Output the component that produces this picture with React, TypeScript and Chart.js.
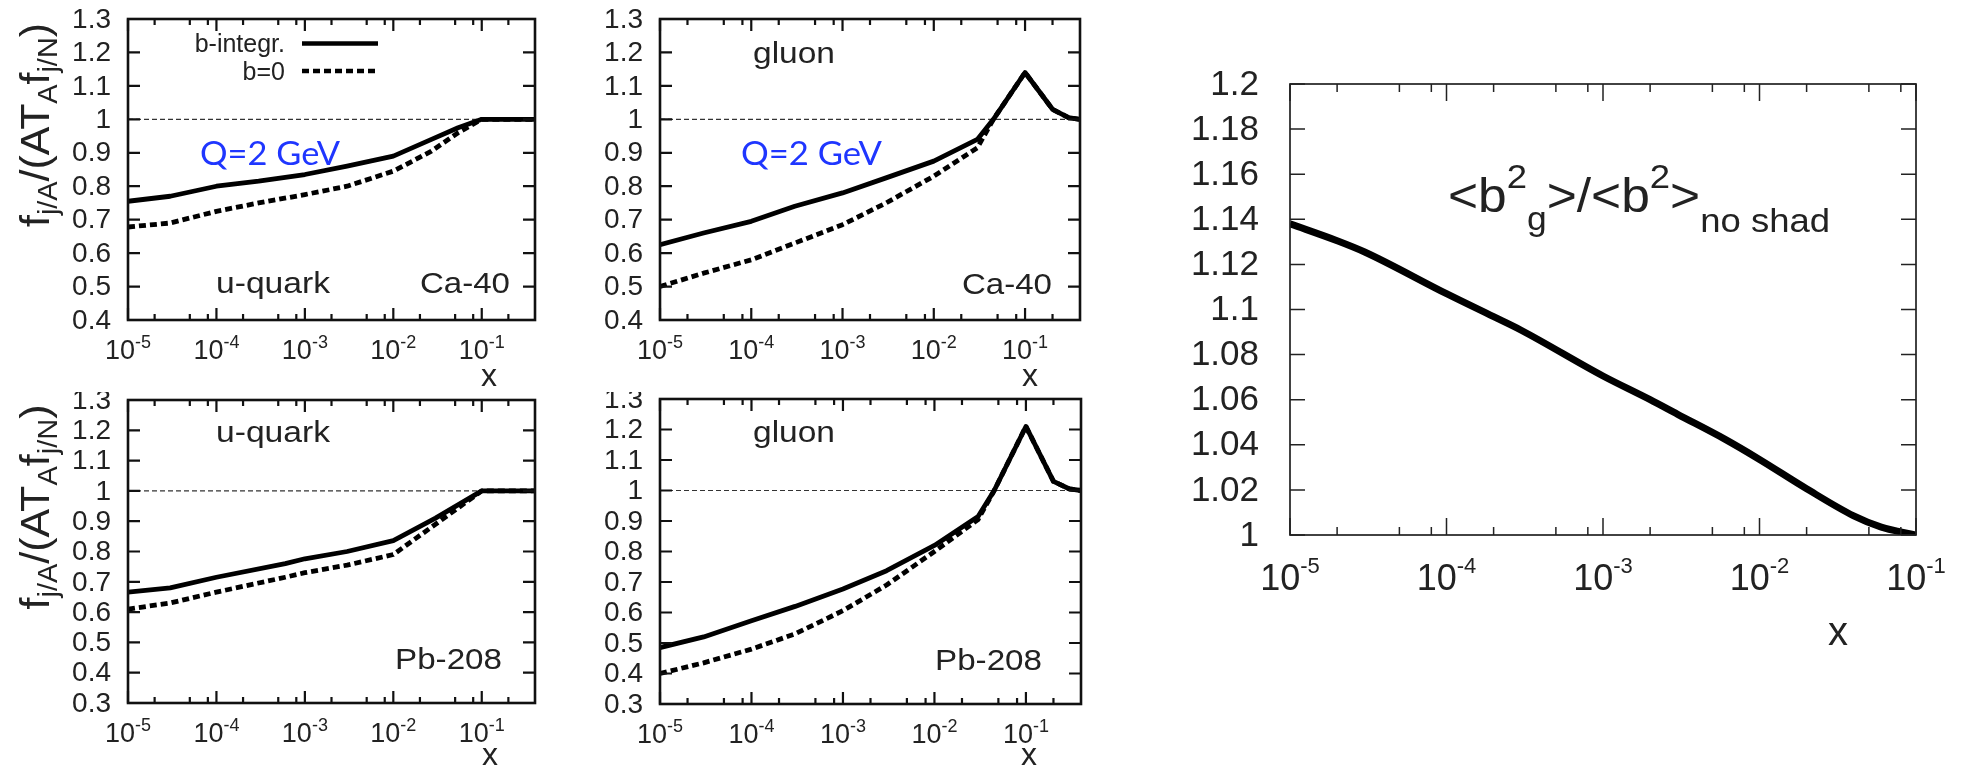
import { useEffect, useRef } from 'react';
import { Chart, registerables } from 'chart.js';

Chart.register(...registerables);

const FONT = '"Liberation Sans", Arial, Helvetica, sans-serif';
const QFONT = 'Lato, "Open Sans", sans-serif';

// ---------------- data ----------------
// u-quark, Ca-40
const uCaX = [1e-5, 3e-5, 1e-4, 3e-4, 1e-3, 3e-3, 1e-2, 2.7e-2, 5.4e-2, 0.1, 0.4];
const uCaInt = [0.755, 0.77, 0.8, 0.815, 0.835, 0.86, 0.89, 0.94, 0.975, 1.0, 1.0];
const uCaB0 = [0.678, 0.69, 0.725, 0.75, 0.775, 0.8, 0.845, 0.905, 0.96, 1.0, 1.0];
// gluon, Ca-40
const gCaX = [1e-5, 3e-5, 1e-4, 3e-4, 1e-3, 3e-3, 1e-2, 3e-2, 4.5e-2, 0.1, 0.2, 0.3, 0.4];
const gCaInt = [0.625, 0.66, 0.695, 0.74, 0.78, 0.825, 0.875, 0.94, 1.0, 1.14, 1.03, 1.005, 1.0];
const gCaB0 = [0.5, 0.54, 0.58, 0.63, 0.685, 0.75, 0.83, 0.915, 1.0, 1.14, 1.03, 1.005, 1.0];
// u-quark, Pb-208
const uPbX = [1e-5, 3e-5, 1e-4, 6e-4, 1e-3, 3e-3, 1e-2, 3e-2, 0.1, 0.4];
const uPbInt = [0.666, 0.68, 0.715, 0.76, 0.776, 0.8, 0.836, 0.91, 1.0, 1.0];
const uPbB0 = [0.61, 0.63, 0.666, 0.715, 0.73, 0.755, 0.79, 0.89, 1.0, 1.0];
// gluon, Pb-208
const gPbX = [1e-5, 3e-5, 1e-4, 3e-4, 1e-3, 3e-3, 1e-2, 3e-2, 4.5e-2, 0.1, 0.2, 0.3, 0.4];
const gPbInt = [0.485, 0.52, 0.573, 0.62, 0.677, 0.737, 0.82, 0.915, 1.0, 1.21, 1.03, 1.005, 1.0];
const gPbB0 = [0.4, 0.435, 0.48, 0.53, 0.606, 0.69, 0.8, 0.905, 1.0, 1.21, 1.03, 1.005, 1.0];
// <b^2_g>/<b^2>_no shad
const b2X = [1e-5, 2e-5, 3e-5, 1e-4, 2e-4, 3e-4, 1e-3, 2e-3, 3e-3, 6e-3, 1e-2, 2e-2, 4e-2, 6e-2, 1e-1];
const b2Ratio = [1.138, 1.1305, 1.1255, 1.107, 1.0968, 1.0908, 1.0705, 1.06, 1.0535, 1.0425, 1.0335, 1.0205, 1.0085, 1.0035, 1.0];

// ticks
const decadeTicks = [1e-5, 1e-4, 1e-3, 1e-2, 1e-1];
const decadeExps = ['-5', '-4', '-3', '-2', '-1'];
const minorMult = [2, 5, 8];
const yTicksCa = [0.4, 0.5, 0.6, 0.7, 0.8, 0.9, 1.0, 1.1, 1.2, 1.3];
const yTicksPb = [0.3, 0.4, 0.5, 0.6, 0.7, 0.8, 0.9, 1.0, 1.1, 1.2, 1.3];
const yTicksB2 = [1.0, 1.02, 1.04, 1.06, 1.08, 1.1, 1.12, 1.14, 1.16, 1.18, 1.2];

// ---------------- helpers ----------------
type Seg = { t: string; s: number; dy?: number };
type TextItem = {
  segs: Seg[];
  x: number;
  y: number;
  align: 'left' | 'center' | 'right';
  family?: string;
  color?: string;
  width?: number;
  rotate?: boolean;
};

function richWidth(ctx: CanvasRenderingContext2D, segs: Seg[], family: string) {
  let w = 0;
  for (const sg of segs) {
    ctx.font = `${sg.s}px ${family}`;
    w += ctx.measureText(sg.t).width;
  }
  return w;
}

function drawRich(ctx: CanvasRenderingContext2D, it: TextItem, ox: number, oy: number) {
  const family = it.family || FONT;
  const w = richWidth(ctx, it.segs, family);
  const sx = it.width ? it.width / w : 1;
  const total = w * sx;
  ctx.save();
  ctx.translate(it.x - ox, it.y - oy);
  if (it.rotate) ctx.rotate(-Math.PI / 2);
  const x0 = it.align === 'left' ? 0 : it.align === 'center' ? -total / 2 : -total;
  ctx.translate(x0, 0);
  ctx.scale(sx, 1);
  ctx.fillStyle = it.color || '#222';
  ctx.textAlign = 'left';
  ctx.textBaseline = 'alphabetic';
  let cx = 0;
  for (const sg of it.segs) {
    ctx.font = `${sg.s}px ${family}`;
    ctx.fillText(sg.t, cx, sg.dy || 0);
    cx += ctx.measureText(sg.t).width;
  }
  ctx.restore();
}

type Series = { x: number[]; y: number[]; dashed: boolean };
type Panel = {
  box: [number, number, number, number];
  frame: [number, number, number, number];
  xMax: number;
  yMin: number;
  yMax: number;
  yTicks: number[];
  big: boolean;
  series: Series[];
  refLine: boolean;
  texts: TextItem[];
  xLabel: [number, number];
  legend?: boolean;
};

const yTitleSegs: Seg[] = [
  { t: 'f', s: 40 },
  { t: 'j/A', s: 27, dy: 8 },
  { t: '/(AT', s: 40 },
  { t: 'A', s: 27, dy: 8 },
  { t: 'f', s: 40 },
  { t: 'j/N', s: 27, dy: 8 },
  { t: ')', s: 40 },
];

const panels: Panel[] = [
  {
    box: [0, 0, 545, 392],
    frame: [128, 19, 535, 320],
    xMax: 0.4,
    yMin: 0.4,
    yMax: 1.3,
    yTicks: yTicksCa,
    big: false,
    series: [
      { x: uCaX, y: uCaInt, dashed: false },
      { x: uCaX, y: uCaB0, dashed: true },
    ],
    refLine: true,
    legend: true,
    xLabel: [489, 386],
    texts: [
      { segs: [{ t: 'u-quark', s: 30 }], x: 216, y: 293, align: 'left', width: 114 },
      { segs: [{ t: 'Ca-40', s: 30 }], x: 420, y: 293, align: 'left', width: 90 },
      { segs: [{ t: 'Q=2 GeV', s: 33 }], x: 200, y: 165, align: 'left', width: 140, family: QFONT, color: '#1f36ff' },
      { segs: yTitleSegs, x: 49, y: 125, align: 'center', width: 204, rotate: true },
    ],
  },
  {
    box: [545, 0, 545, 392],
    frame: [660, 19, 1080, 320],
    xMax: 0.4,
    yMin: 0.4,
    yMax: 1.3,
    yTicks: yTicksCa,
    big: false,
    series: [
      { x: gCaX, y: gCaInt, dashed: false },
      { x: gCaX, y: gCaB0, dashed: true },
    ],
    refLine: true,
    xLabel: [1030, 386],
    texts: [
      { segs: [{ t: 'gluon', s: 30 }], x: 753, y: 63, align: 'left', width: 82 },
      { segs: [{ t: 'Ca-40', s: 30 }], x: 962, y: 294, align: 'left', width: 90 },
      { segs: [{ t: 'Q=2 GeV', s: 33 }], x: 741, y: 165, align: 'left', width: 141, family: QFONT, color: '#1f36ff' },
    ],
  },
  {
    box: [0, 392, 545, 379],
    frame: [128, 400, 535, 703],
    xMax: 0.4,
    yMin: 0.3,
    yMax: 1.3,
    yTicks: yTicksPb,
    big: false,
    series: [
      { x: uPbX, y: uPbInt, dashed: false },
      { x: uPbX, y: uPbB0, dashed: true },
    ],
    refLine: true,
    xLabel: [490, 765],
    texts: [
      { segs: [{ t: 'u-quark', s: 30 }], x: 216, y: 442, align: 'left', width: 114 },
      { segs: [{ t: 'Pb-208', s: 30 }], x: 395, y: 669, align: 'left', width: 107 },
      { segs: yTitleSegs, x: 49, y: 507, align: 'center', width: 205, rotate: true },
    ],
  },
  {
    box: [545, 392, 545, 379],
    frame: [660, 399, 1081, 704],
    xMax: 0.4,
    yMin: 0.3,
    yMax: 1.3,
    yTicks: yTicksPb,
    big: false,
    series: [
      { x: gPbX, y: gPbInt, dashed: false },
      { x: gPbX, y: gPbB0, dashed: true },
    ],
    refLine: true,
    xLabel: [1029, 765],
    texts: [
      { segs: [{ t: 'gluon', s: 30 }], x: 753, y: 442, align: 'left', width: 82 },
      { segs: [{ t: 'Pb-208', s: 30 }], x: 935, y: 670, align: 'left', width: 107 },
    ],
  },
  {
    box: [1100, 0, 866, 771],
    frame: [1290, 84, 1916, 535],
    xMax: 0.1,
    yMin: 1.0,
    yMax: 1.2,
    yTicks: yTicksB2,
    big: true,
    series: [{ x: b2X, y: b2Ratio, dashed: false }],
    refLine: false,
    xLabel: [1838, 645],
    texts: [
      {
        segs: [
          { t: '<b', s: 48 },
          { t: '2', s: 34, dy: -24 },
          { t: 'g', s: 33, dy: 18 },
          { t: '>/<b', s: 48 },
          { t: '2', s: 34, dy: -24 },
          { t: '>', s: 48 },
          { t: 'no shad', s: 34, dy: 20 },
        ],
        x: 1448,
        y: 212,
        align: 'left',
        width: 382,
      },
    ],
  },
];

function fmtY(v: number) {
  return String(Number(v.toFixed(2)));
}

function decoPlugin(p: Panel) {
  return {
    id: 'deco',
    afterDraw(chart: any) {
      const ctx: CanvasRenderingContext2D = chart.ctx;
      const xs = chart.scales.x;
      const ys = chart.scales.y;
      const { left, right, top, bottom } = chart.chartArea;
      const ox = p.box[0];
      const oy = p.box[1];
      const big = p.big;
      const majX = big ? 17 : 12;
      const minX = big ? 8 : 6;
      const majY = big ? 15 : 12;
      ctx.save();
      ctx.strokeStyle = big ? '#222' : '#111';
      ctx.lineWidth = big ? 1.5 : 2.2;
      ctx.setLineDash([]);
      ctx.beginPath();
      for (const d of decadeTicks) {
        if (d > p.xMax * 1.0001) continue;
        const px = xs.getPixelForValue(d);
        ctx.moveTo(px, bottom);
        ctx.lineTo(px, bottom - majX);
        ctx.moveTo(px, top);
        ctx.lineTo(px, top + majX);
        for (const m of minorMult) {
          const v = d * m;
          if (v > p.xMax) continue;
          const mx = xs.getPixelForValue(v);
          ctx.moveTo(mx, bottom);
          ctx.lineTo(mx, bottom - minX);
          ctx.moveTo(mx, top);
          ctx.lineTo(mx, top + minX);
        }
      }
      for (const v of p.yTicks) {
        const py = ys.getPixelForValue(v);
        ctx.moveTo(left, py);
        ctx.lineTo(left + majY, py);
        ctx.moveTo(right, py);
        ctx.lineTo(right - majY, py);
      }
      ctx.stroke();
      ctx.lineWidth = big ? 1.7 : 2.6;
      ctx.strokeRect(left, top, right - left, bottom - top);

      // y tick labels
      const ySize = big ? 35 : 28;
      const yGap = big ? 31 : 17;
      ctx.fillStyle = '#222';
      ctx.font = `${ySize}px ${FONT}`;
      ctx.textAlign = 'right';
      ctx.textBaseline = 'middle';
      for (const v of p.yTicks) {
        const py = ys.getPixelForValue(v);
        ctx.fillText(fmtY(v), left - yGap, py + 1);
      }

      // x tick labels
      const xSize = big ? 36 : 27;
      const supSize = big ? 22 : 18;
      const supRaise = big ? 17 : 11;
      const xOff = big ? 55 : 39;
      decadeTicks.forEach((d, i) => {
        if (d > p.xMax * 1.0001) return;
        const px = xs.getPixelForValue(d);
        drawRich(
          ctx,
          {
            segs: [
              { t: '10', s: xSize },
              { t: decadeExps[i], s: supSize, dy: -supRaise },
            ],
            x: px + ox,
            y: bottom + xOff + oy,
            align: 'center',
          },
          ox,
          oy,
        );
      });

      // axis label x
      drawRich(ctx, { segs: [{ t: 'x', s: big ? 40 : 32 }], x: p.xLabel[0], y: p.xLabel[1], align: 'center' }, ox, oy);

      // texts
      for (const t of p.texts) drawRich(ctx, t, ox, oy);

      // legend
      if (p.legend) {
        drawRich(ctx, { segs: [{ t: 'b-integr.', s: 25 }], x: 285, y: 52, align: 'right' }, ox, oy);
        drawRich(ctx, { segs: [{ t: 'b=0', s: 25 }], x: 285, y: 80, align: 'right' }, ox, oy);
        ctx.strokeStyle = '#000';
        ctx.lineWidth = 4.5;
        ctx.beginPath();
        ctx.moveTo(302 - ox, 43.5 - oy);
        ctx.lineTo(378 - ox, 43.5 - oy);
        ctx.stroke();
        ctx.setLineDash([7, 4]);
        ctx.beginPath();
        ctx.moveTo(302 - ox, 71 - oy);
        ctx.lineTo(378 - ox, 71 - oy);
        ctx.stroke();
        ctx.setLineDash([]);
      }
      ctx.restore();
    },
  };
}

function PanelChart({ p }: { p: Panel }) {
  const ref = useRef<HTMLCanvasElement>(null);
  useEffect(() => {
    const canvas = ref.current;
    if (!canvas) return;
    const [bx, by, bw, bh] = p.box;
    const [fl, ft, fr, fb] = p.frame;
    const datasets: any[] = p.series.map((s) => ({
      data: s.x.map((x, i) => ({ x, y: s.y[i] })),
      borderColor: '#000',
      borderWidth: p.big ? 7 : 4.8,
      borderDash: s.dashed ? [7, 4] : [],
      pointRadius: 0,
      showLine: true,
      fill: false,
      tension: p.big ? 0.4 : 0,
      cubicInterpolationMode: p.big ? 'monotone' : 'default',
      borderJoinStyle: 'round',
    }));
    if (p.refLine) {
      datasets.push({
        data: [
          { x: 1e-5, y: 1 },
          { x: p.xMax, y: 1 },
        ],
        borderColor: '#333',
        borderWidth: 1.2,
        borderDash: [5, 3],
        pointRadius: 0,
        showLine: true,
        fill: false,
      });
    }
    const chart = new Chart(canvas, {
      type: 'scatter',
      data: { datasets },
      options: {
        animation: false,
        responsive: false,
        devicePixelRatio: 1,
        events: [],
        layout: {
          padding: { left: fl - bx, top: ft - by, right: bx + bw - fr, bottom: by + bh - fb },
        },
        plugins: { legend: { display: false }, tooltip: { enabled: false } },
        scales: {
          x: { type: 'logarithmic', min: 1e-5, max: p.xMax, display: false },
          y: { type: 'linear', min: p.yMin, max: p.yMax, display: false },
        },
      },
      plugins: [decoPlugin(p)],
    } as any);
    return () => chart.destroy();
  }, [p]);
  return (
    <canvas
      ref={ref}
      width={p.box[2]}
      height={p.box[3]}
      style={{ position: 'absolute', left: p.box[0], top: p.box[1], width: p.box[2], height: p.box[3] }}
    />
  );
}

export default function App() {
  return (
    <div style={{ position: 'fixed', left: 0, top: 0, width: 1966, height: 771, background: '#fff', overflow: 'hidden' }}>
      {panels.map((p, i) => (
        <PanelChart key={i} p={p} />
      ))}
    </div>
  );
}
